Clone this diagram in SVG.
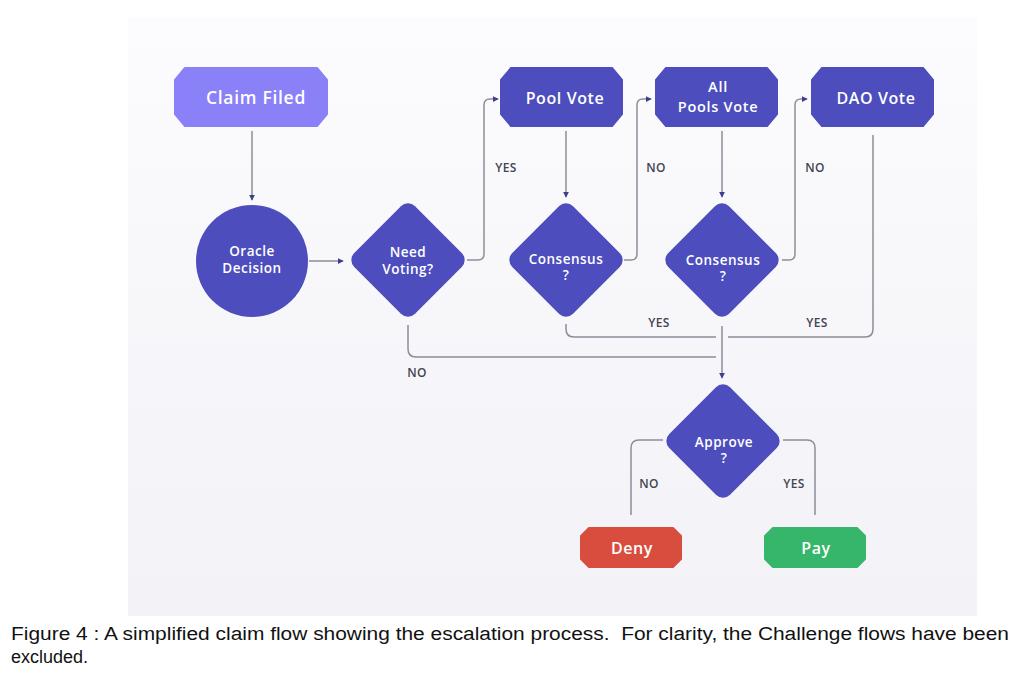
<svg xmlns="http://www.w3.org/2000/svg" width="1024" height="676" viewBox="0 0 1024 676">
<defs>
<linearGradient id="bg" x1="0" y1="0" x2="0" y2="1">
<stop offset="0" stop-color="#fcfcfe"/>
<stop offset="1" stop-color="#f2f2f7"/>
</linearGradient>
<marker id="arr" viewBox="0 0 8 8" refX="7" refY="4" markerWidth="6" markerHeight="6" orient="auto" markerUnits="userSpaceOnUse">
<path d="M0,0 L8,4 L0,8 z" fill="#3f3f8f"/>
</marker>
<style>
.node{fill:#4d4dbd;stroke:#4d4dbd;stroke-width:2;stroke-linejoin:round}
.t{font-family:"Open Sans","DejaVu Sans",sans-serif;font-weight:600;fill:#fff;text-anchor:middle}
.big{font-size:17.5px;letter-spacing:0.7px}
.mid{font-size:16px;letter-spacing:0.6px}
.two{font-size:14.5px;letter-spacing:0.7px}
.sm{font-size:13.5px;letter-spacing:0.5px}
.c{fill:none;stroke:#8d8d9b;stroke-width:1.5}
.a{marker-end:url(#arr)}
.lbl{font-family:"Open Sans","DejaVu Sans",sans-serif;font-weight:600;font-size:12px;letter-spacing:0.3px;fill:#444450;text-anchor:middle}
.cap{font-family:"Liberation Sans",Arial,sans-serif;font-size:18px;fill:#111}
</style>
</defs>
<rect width="1024" height="676" fill="#fff"/>
<rect x="128" y="17" width="849" height="599" fill="url(#bg)"/>

<g id="connectors">
<path class="c a" d="M252,131 V200"/>
<path class="c a" d="M309,261 H343"/>
<path class="c a" d="M467,260 H478 Q484,260 484,254 V105 Q484,99 490,99 H498"/>
<path class="c a" d="M566,131 V197"/>
<path class="c a" d="M624,260 H631 Q637,260 637,254 V105 Q637,99 643,99 H651"/>
<path class="c a" d="M722,131 V197"/>
<path class="c a" d="M782,260 H789 Q795,260 795,254 V105 Q795,99 801,99 H807"/>
<path class="c" d="M873,135 V329 Q873,337 865,337 H728"/>
<path class="c" d="M566,324 V329 Q566,337 574,337 H716"/>
<path class="c" d="M408,325 V349 Q408,357 416,357 H716"/>
<path class="c a" d="M722,326 V378"/>
<path class="c" d="M663,440 H639 Q631,440 631,448 V515"/>
<path class="c" d="M783,440 H807 Q815,440 815,448 V515"/>
<text class="lbl" x="506" y="172">YES</text>
<text class="lbl" x="656" y="172">NO</text>
<text class="lbl" x="815" y="172">NO</text>
<text class="lbl" x="659" y="327">YES</text>
<text class="lbl" x="817" y="327">YES</text>
<text class="lbl" x="417" y="377">NO</text>
<text class="lbl" x="649" y="488">NO</text>
<text class="lbl" x="794" y="488">YES</text>
</g>

<g id="claim-filed">
<polygon class="node" style="fill:#8a80f8;stroke:#8a80f8" points="185,68 317,68 327,80 327,114 317,126 185,126 175,114 175,80"/>
<text class="t big" x="256" y="104">Claim Filed</text>
</g>

<g id="oracle-decision">
<circle cx="252" cy="261" r="56" fill="#4d4dbd"/>
<text class="t sm" x="252" y="256">Oracle</text>
<text class="t sm" x="252" y="273">Decision</text>
</g>

<g id="need-voting">
<rect class="node" x="366" y="218" width="84" height="84" rx="9" transform="rotate(45 408 260)"/>
<text class="t sm" x="408" y="257">Need</text>
<text class="t sm" x="408" y="274">Voting?</text>
</g>

<g id="pool-vote">
<polygon class="node" points="511,68 612,68 622,80 622,114 612,126 511,126 501,114 501,80"/>
<text class="t mid" x="565" y="104">Pool Vote</text>
</g>

<g id="consensus-1">
<rect class="node" x="524" y="218" width="84" height="84" rx="9" transform="rotate(45 566 260)"/>
<text class="t sm" x="566" y="264">Consensus</text>
<text class="t sm" x="566" y="280">?</text>
</g>

<g id="all-pools-vote">
<polygon class="node" points="666,68 767,68 777,80 777,114 767,126 666,126 656,114 656,80"/>
<text class="t two" x="718" y="92">All</text>
<text class="t two" x="718" y="112">Pools Vote</text>
</g>

<g id="consensus-2">
<rect class="node" x="680" y="218" width="84" height="84" rx="9" transform="rotate(45 722 260)"/>
<text class="t sm" x="723" y="265">Consensus</text>
<text class="t sm" x="723" y="281">?</text>
</g>

<g id="dao-vote">
<polygon class="node" points="822,68 923,68 933,80 933,114 923,126 822,126 812,114 812,80"/>
<text class="t mid" x="876" y="104">DAO Vote</text>
</g>

<g id="approve">
<rect class="node" x="681" y="399" width="84" height="84" rx="9" transform="rotate(45 723 441)"/>
<text class="t sm" x="724" y="447">Approve</text>
<text class="t sm" x="724" y="463">?</text>
</g>

<g id="deny">
<polygon class="node" style="fill:#d94d3e;stroke:#d94d3e" points="589,528 673,528 681,536 681,559 673,567 589,567 581,559 581,536"/>
<text class="t mid" x="632" y="554">Deny</text>
</g>

<g id="pay">
<polygon class="node" style="fill:#35b66a;stroke:#35b66a" points="773,528 857,528 865,536 865,559 857,567 773,567 765,559 765,536"/>
<text class="t mid" x="816" y="554">Pay</text>
</g>

<text class="cap" x="11" y="640" xml:space="preserve" textLength="998" lengthAdjust="spacingAndGlyphs">Figure 4 : A simplified claim flow showing the escalation process.  For clarity, the Challenge flows have been</text>
<text class="cap" x="11" y="663">excluded.</text>
</svg>
